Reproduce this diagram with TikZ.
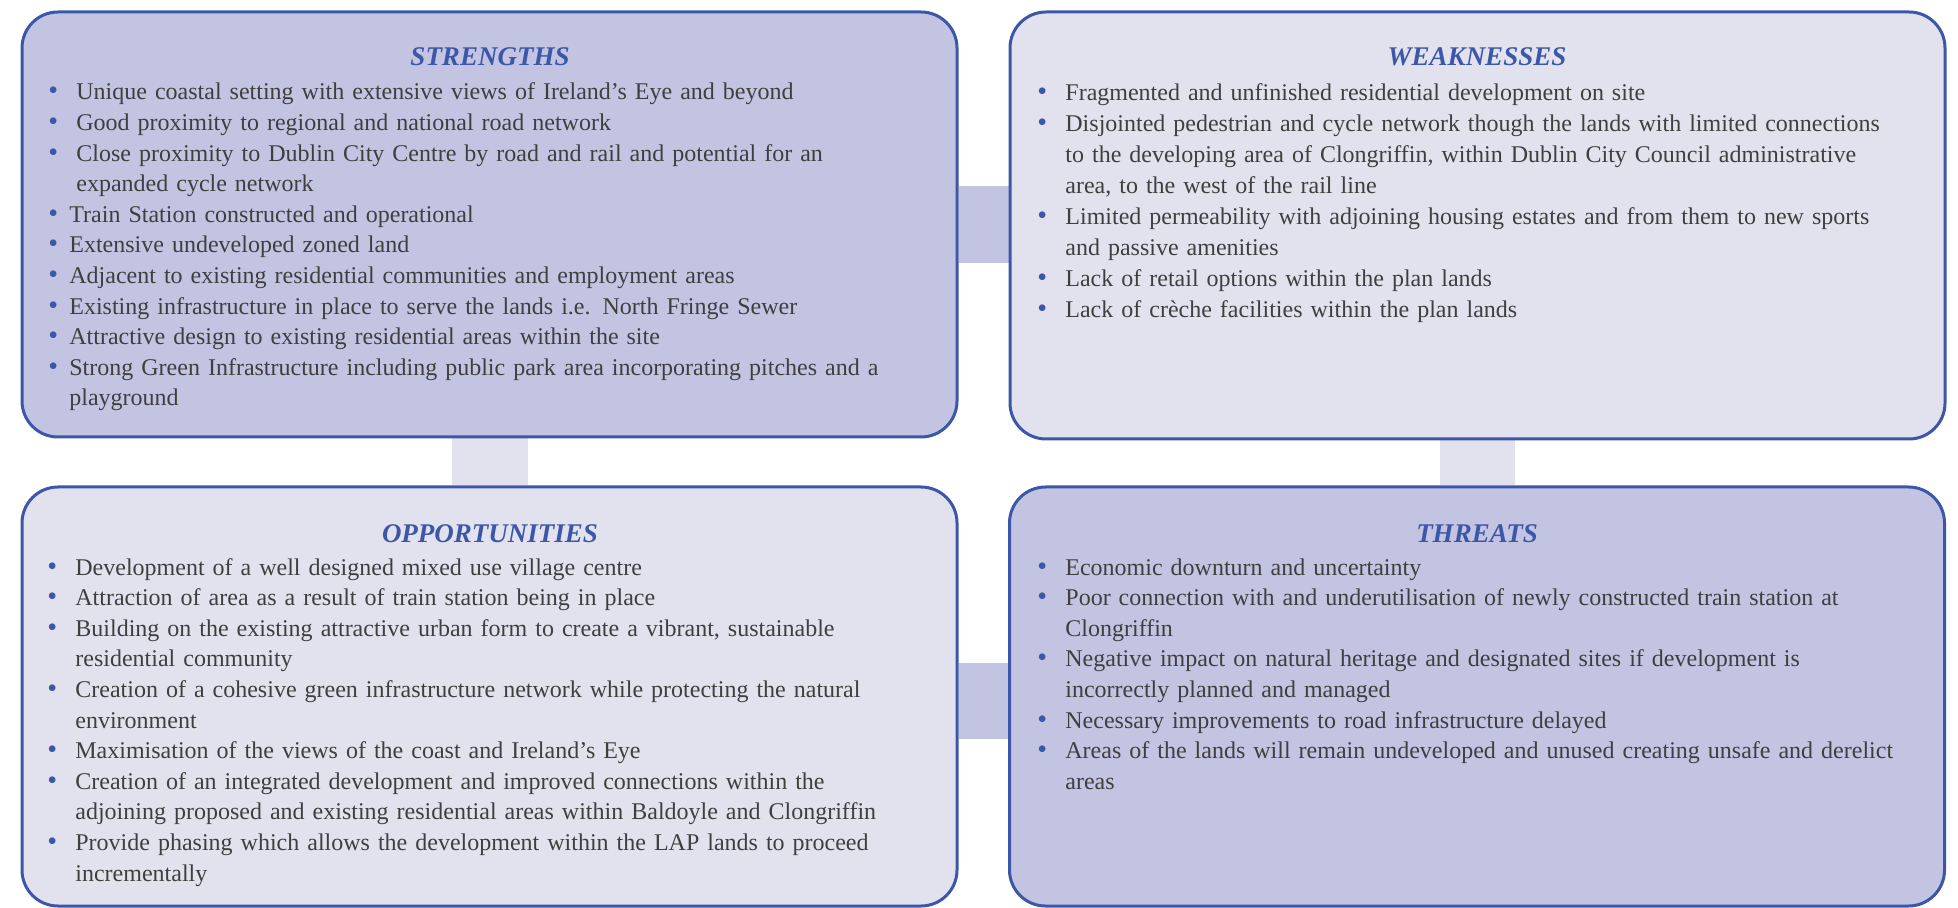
\documentclass[tikz,border=0pt]{standalone}
\usepackage{fontspec}
\setmainfont{Liberation Serif}
\usepackage{xcolor}
\usepackage{tikz}
\usetikzlibrary{backgrounds,positioning}
\definecolor{swBlue}{HTML}{3C56A8}
\definecolor{swDark}{HTML}{C2C4E2}
\definecolor{swLight}{HTML}{E2E2EF}
\definecolor{swInk}{HTML}{3F3F3F}
\newcommand{\switem}[2][14pt]{\hangindent=#1\hangafter=1\noindent
  \makebox[#1][l]{\textcolor{swBlue}{\fontsize{14}{14}\selectfont\textbullet}}#2\par}
\tikzset{
  sw diagram/.style={x=0.5pt, y=-0.5pt, text=swInk,
    font=\fontsize{12}{15.3}\selectfont},
  sw box/.style={draw=swBlue, line width=1.5pt, rounded corners=18pt,
    minimum width=467.5pt, inner sep=0pt},
  sw box dark/.style={sw box, fill=swDark},
  sw box light/.style={sw box, fill=swLight},
  sw title/.style={anchor=base, inner sep=0pt, text=swBlue,
    font=\fontsize{13.5}{16}\selectfont\bfseries\itshape},
  sw list/.style={anchor=base west, inner sep=0pt, text width=470pt, align=left},
  sw link dark/.style={fill=swDark},
  sw link light/.style={fill=swLight}
}

\begin{document}
\begin{tikzpicture}[sw diagram]
\useasboundingbox (0,0) rectangle (1958,908);
% quadrants
\node[sw box dark, minimum height=212.5pt] (str) at (489.5,224.5) {};
\node[sw box light, minimum height=213.5pt] (wea) at (1477.5,225.5) {};
\node[sw box light, minimum height=209.5pt] (opp) at (489.5,696.5) {};
\node[sw box dark, minimum height=209.5pt] (thr) at (1477,696.5) {};
% links between quadrants
\begin{scope}[on background layer]
\fill[sw link dark] ([yshift=19pt]str.east) rectangle ([yshift=-19pt]wea.west);
\fill[sw link light] ([xshift=-19pt]str.south) rectangle ([xshift=19pt]opp.north);
\fill[sw link dark] ([yshift=17pt]opp.east) rectangle ([yshift=-21pt]thr.west);
\fill[sw link light] ([xshift=-19pt]wea.south) rectangle ([xshift=19pt]thr.north);
\end{scope}
% headings
\node[sw title] (strT) at (490,66) {STRENGTHS};
\node[sw title] (weaT) at (1477,66) {WEAKNESSES};
\node[sw title] (oppT) at (490,542) {OPPORTUNITIES};
\node[sw title] (thrT) at (1477,542) {THREATS};
% lists
\node[sw list] (strL) at (48,100) {%
  \switem{Unique coastal setting with extensive views of Ireland's Eye and beyond}
  \switem{Good proximity to regional and national road network}
  \switem{Close proximity to Dublin City Centre by road and rail and potential for an\newline expanded cycle network}
  \switem[10.5pt]{Train Station constructed and operational}
  \switem[10.5pt]{Extensive undeveloped zoned land}
  \switem[10.5pt]{Adjacent to existing residential communities and employment areas}
  \switem[10.5pt]{Existing infrastructure in place to serve the lands i.e. North Fringe Sewer}
  \switem[10.5pt]{Attractive design to existing residential areas within the site}
  \switem[10.5pt]{Strong Green Infrastructure including public park area incorporating pitches and a\newline playground}};
\node[sw list] (weaL) at (1037,100.5) {\setlength{\parskip}{0.4pt}%
  \switem{Fragmented and unfinished residential development on site}
  \switem{Disjointed pedestrian and cycle network though the lands with limited connections\newline to the developing area of Clongriffin, within Dublin City Council administrative\newline area, to the west of the rail line}
  \switem{Limited permeability with adjoining housing estates and from them to new sports\newline and passive amenities}
  \switem{Lack of retail options within the plan lands}
  \switem{Lack of crèche facilities within the plan lands}};
\node[sw list] (oppL) at (47,575) {%
  \switem{Development of a well designed mixed use village centre}
  \switem{Attraction of area as a result of train station being in place}
  \switem{Building on the existing attractive urban form to create a vibrant, sustainable\newline residential community}
  \switem{Creation of a cohesive green infrastructure network while protecting the natural\newline environment}
  \switem{Maximisation of the views of the coast and Ireland's Eye}
  \switem{Creation of an integrated development and improved connections within the\newline adjoining proposed and existing residential areas within Baldoyle and Clongriffin}
  \switem{Provide phasing which allows the development within the LAP lands to proceed\newline incrementally}};
\node[sw list] (thrL) at (1037,575) {%
  \switem{Economic downturn and uncertainty}
  \switem{Poor connection with and underutilisation of newly constructed train station at\newline Clongriffin}
  \switem{Negative impact on natural heritage and designated sites if development is\newline incorrectly planned and managed}
  \switem{Necessary improvements to road infrastructure delayed}
  \switem{Areas of the lands will remain undeveloped and unused creating unsafe and derelict\newline areas}};
\end{tikzpicture}
\end{document}
